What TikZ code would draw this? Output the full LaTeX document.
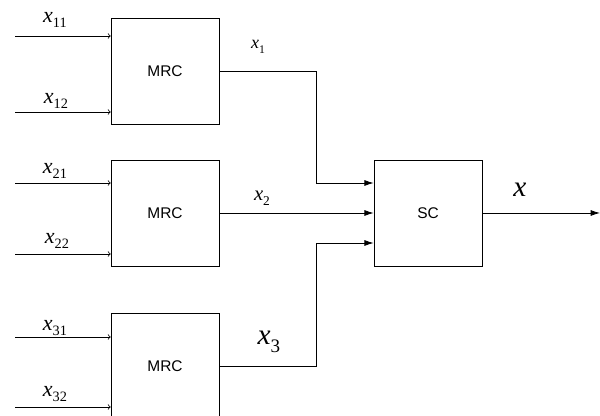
\documentclass[tikz,border=0pt]{standalone}
\usepackage{fontspec}
\setmainfont{Liberation Sans}
\newfontfamily\symfont{Liberation Serif}
\usepackage{tikz}
\usetikzlibrary{arrows,arrows.meta,positioning}
\newcommand{\xsub}[1]{\symfont\textit{x}\raisebox{-0.25em}{\scalebox{0.65}{#1}}}
\tikzset{
	block/.style={
		draw, rectangle, minimum width=81pt, minimum height=79.5pt,
		inner sep=0pt, text=black, font=\fontsize{11.6}{13}\selectfont
	},
	in_arrow/.style={->, >=to, line width=0.6pt},
	sc_arrow/.style={-{Latex[length=7pt,width=4.5pt]}, line width=0.6pt},
	wire/.style={line width=0.6pt},
	lbl/.style={inner sep=0pt, font=\fontsize{16.5}{18}\selectfont}
}
\begin{document}
\begin{tikzpicture}[x=0.75pt,y=-0.75pt]
				\useasboundingbox (0,0) rectangle (600,416);
				\node[block] (M1) at (165,71) {MRC};
				\node[block] (M2) at (165,213) {MRC};
				\node[block] (M3) at (165,366) {MRC};
				\node[block] (SC) at (428,213) {SC};
				% inputs
				\coordinate (I11) at (15,36);
				\coordinate (I12) at (15,112);
				\coordinate (I21) at (15,183);
				\coordinate (I22) at (15,254);
				\coordinate (I31) at (15,337);
				\coordinate (I32) at (15,407);
				\draw[in_arrow] (I11) -- (I11 -| M1.west);
				\draw[in_arrow] (I12) -- (I12 -| M1.west);
				\draw[in_arrow] (I21) -- (I21 -| M2.west);
				\draw[in_arrow] (I22) -- (I22 -| M2.west);
				\draw[in_arrow] (I31) -- (I31 -| M3.west);
				\draw[in_arrow] (I32) -- (I32 -| M3.west);
				\node[lbl] (L11) at (55,20) {\xsub{11}};
				\node[lbl] (L12) at (56,101) {\xsub{12}};
				\node[lbl] (L21) at (55,171) {\xsub{21}};
				\node[lbl] (L22) at (57,241) {\xsub{22}};
				\node[lbl] (L31) at (55,328) {\xsub{31}};
				\node[lbl] (L32) at (55,394) {\xsub{32}};
				% to the selector
				\coordinate (J1) at (316,183);
				\coordinate (J3) at (316,243);
				\coordinate (OUT) at (600,213);
				\draw[wire] (M1.east) -- (M1.east -| J1) -- (J1);
				\draw[sc_arrow] (J1) -- (J1 -| SC.west);
				\draw[sc_arrow] (M2.east) -- (SC.west);
				\draw[wire] (M3.east) -- (M3.east -| J3) -- (J3);
				\draw[sc_arrow] (J3) -- (J3 -| SC.west);
				\draw[sc_arrow] (SC.east) -- (OUT);
				\node[lbl, font=\fontsize{13.5}{15}\selectfont] (L1) at (258,47) {\xsub{1}};
				\node[lbl, font=\fontsize{15.5}{17}\selectfont] (L2) at (262,198) {\xsub{2}};
				\node[lbl, font=\fontsize{22}{24}\selectfont] (L3) at (269,342) {\xsub{3}};
				\node[lbl, font=\fontsize{22}{24}\selectfont] (LX) at (520,190) {\symfont\textit{x}};
			\end{tikzpicture}
\end{document}
